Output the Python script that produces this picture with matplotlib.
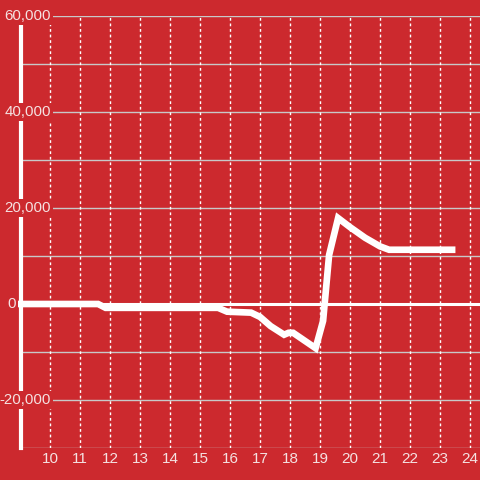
import matplotlib
matplotlib.use("Agg")
import matplotlib.pyplot as plt
import matplotlib.transforms as mtransforms

# Data
hours = [8.9, 11.6, 11.85, 15.6, 15.9, 16.7, 17.0, 17.35, 17.8, 17.95, 18.1, 18.85, 19.1, 19.3, 19.6, 20.0, 20.5, 21.0, 21.3, 23.4]
values = [0, 0, -800, -800, -1600, -1800, -2700, -4600, -6400, -6000, -6000, -9200, -3500, 10200, 17900, 16000, 13800, 12000, 11300, 11300]
xticks = list(range(10, 25))
yticks = [-20000, 0, 20000, 40000, 60000]
ytick_labels = ["-20,000", "0", "20,000", "40,000", "60,000"]
ygrid = list(range(-30000, 60001, 10000))

bg = "#cc292e"
txt = "#f5e1e1"

fig = plt.figure(figsize=(4.8, 4.8), dpi=100, facecolor=bg)
ax = fig.add_axes([21/480, 32/480, 459/480, 432/480])
ax.set_facecolor(bg)
ax.set_xlim(9.03, 24.33)
ax.set_ylim(-30000, 60000)

for v in ygrid:
    if v == 0:
        ax.axhline(v, color="white", lw=2.2, zorder=1.5)
    else:
        ax.axhline(v, color="#c8c8c8", lw=1, zorder=1)
for x in xticks:
    ax.axvline(x, color="white", lw=1, ls=(0, (2, 2)), zorder=1)

ax.plot(hours, values, color="white", lw=4.8, solid_joinstyle="miter", zorder=2, clip_on=False)

for s in ["top", "right", "bottom"]:
    ax.spines[s].set_visible(False)
ax.spines["left"].set_color("white")
ax.spines["left"].set_linewidth(3)
ax.spines["left"].set_zorder(2.5)

ax.set_yticks([])
ax.set_xticks(xticks)
ax.set_xticklabels([str(x) for x in xticks], color=txt, fontsize=11, family="Liberation Sans")
ax.tick_params(axis="x", length=0, pad=3)

trans = mtransforms.blended_transform_factory(ax.transAxes, ax.transData)
for v, lab in zip(yticks, ytick_labels):
    xpos = 0.065 if lab != "0" else -5/459
    ax.text(xpos, v, lab, transform=trans, ha="right", va="center", color=txt,
            fontsize=10.8, family="Liberation Sans", zorder=4, clip_on=False,
            bbox=dict(facecolor=bg, edgecolor="none", pad=1.5))

fig.savefig("out.png", dpi=100, facecolor=bg)
